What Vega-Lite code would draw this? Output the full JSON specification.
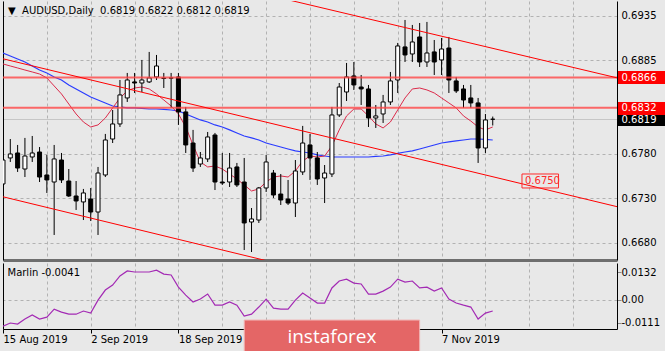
{
  "$schema": "https://vega.github.io/schema/vega-lite/v6.json",
  "background": "#e8e8e8",
  "padding": {"left": 2, "top": 1, "right": 0, "bottom": 0},
  "spacing": 3,
  "config": {
    "view": {"stroke": null},
    "axis": {"labelFont": "DejaVu Sans", "labelFontSize": 10, "labelColor": "#000"},
    "title": {"font": "DejaVu Sans"}
  },
  "datasets": {
    "candles": [
      {"d":"2019-08-15","o":0.67463,"h":0.67912,"l":0.67452,"c":0.67732},
      {"d":"2019-08-16","o":0.67755,"h":0.67968,"l":0.6771,"c":0.678},
      {"d":"2019-08-19","o":0.67811,"h":0.67901,"l":0.67598,"c":0.67642},
      {"d":"2019-08-20","o":0.67631,"h":0.6798,"l":0.67541,"c":0.67777},
      {"d":"2019-08-21","o":0.67766,"h":0.68002,"l":0.6771,"c":0.67811},
      {"d":"2019-08-22","o":0.67822,"h":0.67878,"l":0.67485,"c":0.67541},
      {"d":"2019-08-23","o":0.67564,"h":0.67789,"l":0.67362,"c":0.67508},
      {"d":"2019-08-26","o":0.67485,"h":0.67901,"l":0.6689,"c":0.67744},
      {"d":"2019-08-27","o":0.67732,"h":0.67811,"l":0.67474,"c":0.67508},
      {"d":"2019-08-28","o":0.67496,"h":0.67631,"l":0.67317,"c":0.67328},
      {"d":"2019-08-29","o":0.67328,"h":0.67496,"l":0.67171,"c":0.67272},
      {"d":"2019-08-30","o":0.67261,"h":0.67407,"l":0.67058,"c":0.67362},
      {"d":"2019-09-02","o":0.67294,"h":0.67418,"l":0.67047,"c":0.67148},
      {"d":"2019-09-03","o":0.67148,"h":0.67654,"l":0.6689,"c":0.67586},
      {"d":"2019-09-04","o":0.67564,"h":0.68025,"l":0.67541,"c":0.67957},
      {"d":"2019-09-05","o":0.67968,"h":0.68294,"l":0.67923,"c":0.68137},
      {"d":"2019-09-06","o":0.68137,"h":0.68631,"l":0.68103,"c":0.68463},
      {"d":"2019-09-09","o":0.68429,"h":0.6871,"l":0.68384,"c":0.68631},
      {"d":"2019-09-10","o":0.68609,"h":0.6871,"l":0.68485,"c":0.68597},
      {"d":"2019-09-11","o":0.68597,"h":0.68856,"l":0.68496,"c":0.68631},
      {"d":"2019-09-12","o":0.68609,"h":0.68946,"l":0.68597,"c":0.68654},
      {"d":"2019-09-13","o":0.68665,"h":0.68912,"l":0.68631,"c":0.68788},
      {"d":"2019-09-16","o":0.68652,"h":0.6871,"l":0.68541,"c":0.68648},
      {"d":"2019-09-17","o":0.68655,"h":0.6871,"l":0.68317,"c":0.68652},
      {"d":"2019-09-18","o":0.68665,"h":0.6871,"l":0.68126,"c":0.68272},
      {"d":"2019-09-19","o":0.68272,"h":0.68328,"l":0.67811,"c":0.67901},
      {"d":"2019-09-20","o":0.67923,"h":0.6807,"l":0.67598,"c":0.67642},
      {"d":"2019-09-23","o":0.67687,"h":0.67822,"l":0.67654,"c":0.67755},
      {"d":"2019-09-24","o":0.67744,"h":0.68047,"l":0.6771,"c":0.67991},
      {"d":"2019-09-25","o":0.68013,"h":0.68036,"l":0.67395,"c":0.67485},
      {"d":"2019-09-26","o":0.67485,"h":0.67811,"l":0.67452,"c":0.67474},
      {"d":"2019-09-27","o":0.67485,"h":0.67811,"l":0.67429,"c":0.67642},
      {"d":"2019-09-30","o":0.67654,"h":0.67699,"l":0.67429,"c":0.67452},
      {"d":"2019-10-01","o":0.67485,"h":0.67755,"l":0.66721,"c":0.67025},
      {"d":"2019-10-02","o":0.67036,"h":0.67193,"l":0.66699,"c":0.6707},
      {"d":"2019-10-03","o":0.67058,"h":0.67429,"l":0.67025,"c":0.67418},
      {"d":"2019-10-04","o":0.67418,"h":0.67789,"l":0.67373,"c":0.6771},
      {"d":"2019-10-07","o":0.67586,"h":0.6762,"l":0.67306,"c":0.67339},
      {"d":"2019-10-08","o":0.6735,"h":0.67575,"l":0.67227,"c":0.67283},
      {"d":"2019-10-09","o":0.67294,"h":0.67508,"l":0.67227,"c":0.67249},
      {"d":"2019-10-10","o":0.67249,"h":0.67732,"l":0.67092,"c":0.67609},
      {"d":"2019-10-11","o":0.67598,"h":0.68115,"l":0.67564,"c":0.67923},
      {"d":"2019-10-14","o":0.67901,"h":0.68025,"l":0.67508,"c":0.67755},
      {"d":"2019-10-15","o":0.67755,"h":0.67822,"l":0.67452,"c":0.67519},
      {"d":"2019-10-16","o":0.6753,"h":0.67676,"l":0.67249,"c":0.67586},
      {"d":"2019-10-17","o":0.67575,"h":0.68328,"l":0.67541,"c":0.68238},
      {"d":"2019-10-18","o":0.68238,"h":0.68597,"l":0.68215,"c":0.68552},
      {"d":"2019-10-21","o":0.68496,"h":0.68822,"l":0.68395,"c":0.68665},
      {"d":"2019-10-22","o":0.68676,"h":0.68833,"l":0.68519,"c":0.68575},
      {"d":"2019-10-23","o":0.68552,"h":0.68687,"l":0.6835,"c":0.6853},
      {"d":"2019-10-24","o":0.6853,"h":0.68575,"l":0.68103,"c":0.68204},
      {"d":"2019-10-25","o":0.68204,"h":0.6835,"l":0.68092,"c":0.68227},
      {"d":"2019-10-28","o":0.68249,"h":0.68463,"l":0.68148,"c":0.68384},
      {"d":"2019-10-29","o":0.68384,"h":0.68721,"l":0.6835,"c":0.6862},
      {"d":"2019-10-30","o":0.68631,"h":0.69047,"l":0.68485,"c":0.69013},
      {"d":"2019-10-31","o":0.69002,"h":0.69305,"l":0.68833,"c":0.68912},
      {"d":"2019-11-01","o":0.68923,"h":0.69249,"l":0.68833,"c":0.69058},
      {"d":"2019-11-04","o":0.69114,"h":0.69271,"l":0.68777,"c":0.68833},
      {"d":"2019-11-05","o":0.68833,"h":0.69283,"l":0.68777,"c":0.68934},
      {"d":"2019-11-06","o":0.68946,"h":0.6908,"l":0.68687,"c":0.68833},
      {"d":"2019-11-07","o":0.68856,"h":0.69103,"l":0.68687,"c":0.68979},
      {"d":"2019-11-08","o":0.6899,"h":0.69114,"l":0.68485,"c":0.68631},
      {"d":"2019-11-11","o":0.6862,"h":0.68665,"l":0.68485,"c":0.68508},
      {"d":"2019-11-12","o":0.6853,"h":0.68575,"l":0.68317,"c":0.68406},
      {"d":"2019-11-13","o":0.68429,"h":0.68575,"l":0.68317,"c":0.68373},
      {"d":"2019-11-14","o":0.68373,"h":0.68429,"l":0.67699,"c":0.67867},
      {"d":"2019-11-15","o":0.67867,"h":0.68249,"l":0.67811,"c":0.68182},
      {"d":"2019-11-18","o":0.6819,"h":0.6822,"l":0.6812,"c":0.6819}
    ],
    "ma": [
      {"d":"2019-08-15","blue":0.68934,"red":0.68811},
      {"d":"2019-08-16","blue":0.68901,"red":0.68788},
      {"d":"2019-08-19","blue":0.68867,"red":0.68766},
      {"d":"2019-08-20","blue":0.68833,"red":0.68743},
      {"d":"2019-08-21","blue":0.68788,"red":0.68721},
      {"d":"2019-08-22","blue":0.68743,"red":0.68698},
      {"d":"2019-08-23","blue":0.6871,"red":0.68654},
      {"d":"2019-08-26","blue":0.68665,"red":0.68564},
      {"d":"2019-08-27","blue":0.68631,"red":0.68474},
      {"d":"2019-08-28","blue":0.68575,"red":0.68361},
      {"d":"2019-08-29","blue":0.6853,"red":0.68249},
      {"d":"2019-08-30","blue":0.68485,"red":0.68159},
      {"d":"2019-09-02","blue":0.6844,"red":0.68103},
      {"d":"2019-09-03","blue":0.68406,"red":0.68126},
      {"d":"2019-09-04","blue":0.68373,"red":0.68204},
      {"d":"2019-09-05","blue":0.68339,"red":0.68317},
      {"d":"2019-09-06","blue":0.68328,"red":0.68429},
      {"d":"2019-09-09","blue":0.68317,"red":0.68508},
      {"d":"2019-09-10","blue":0.68317,"red":0.68541},
      {"d":"2019-09-11","blue":0.68311,"red":0.68552},
      {"d":"2019-09-12","blue":0.68305,"red":0.6853},
      {"d":"2019-09-13","blue":0.68305,"red":0.68474},
      {"d":"2019-09-16","blue":0.683,"red":0.68406},
      {"d":"2019-09-17","blue":0.68294,"red":0.68339},
      {"d":"2019-09-18","blue":0.68283,"red":0.68249},
      {"d":"2019-09-19","blue":0.68249,"red":0.68103},
      {"d":"2019-09-20","blue":0.68215,"red":0.67901},
      {"d":"2019-09-23","blue":0.68182,"red":0.6771},
      {"d":"2019-09-24","blue":0.68159,"red":0.67654},
      {"d":"2019-09-25","blue":0.68126,"red":0.67665},
      {"d":"2019-09-26","blue":0.68103,"red":0.67631},
      {"d":"2019-09-27","blue":0.6807,"red":0.67575},
      {"d":"2019-09-30","blue":0.68036,"red":0.67519},
      {"d":"2019-10-01","blue":0.68002,"red":0.67452},
      {"d":"2019-10-02","blue":0.6798,"red":0.67384},
      {"d":"2019-10-03","blue":0.67957,"red":0.67407},
      {"d":"2019-10-04","blue":0.67923,"red":0.67485},
      {"d":"2019-10-07","blue":0.67901,"red":0.67541},
      {"d":"2019-10-08","blue":0.67878,"red":0.67553},
      {"d":"2019-10-09","blue":0.67856,"red":0.67541},
      {"d":"2019-10-10","blue":0.67834,"red":0.67609},
      {"d":"2019-10-11","blue":0.67822,"red":0.67721},
      {"d":"2019-10-14","blue":0.67811,"red":0.67777},
      {"d":"2019-10-15","blue":0.67789,"red":0.67766},
      {"d":"2019-10-16","blue":0.67777,"red":0.67777},
      {"d":"2019-10-17","blue":0.67766,"red":0.6789},
      {"d":"2019-10-18","blue":0.67766,"red":0.6807},
      {"d":"2019-10-21","blue":0.67766,"red":0.68227},
      {"d":"2019-10-22","blue":0.67766,"red":0.68305},
      {"d":"2019-10-23","blue":0.67766,"red":0.68305},
      {"d":"2019-10-24","blue":0.67766,"red":0.68227},
      {"d":"2019-10-25","blue":0.67772,"red":0.68137},
      {"d":"2019-10-28","blue":0.67777,"red":0.68092},
      {"d":"2019-10-29","blue":0.67789,"red":0.68159},
      {"d":"2019-10-30","blue":0.67806,"red":0.68294},
      {"d":"2019-10-31","blue":0.67822,"red":0.68429},
      {"d":"2019-11-01","blue":0.67834,"red":0.6853},
      {"d":"2019-11-04","blue":0.67856,"red":0.68541},
      {"d":"2019-11-05","blue":0.67878,"red":0.68519},
      {"d":"2019-11-06","blue":0.67901,"red":0.68485},
      {"d":"2019-11-07","blue":0.67923,"red":0.68429},
      {"d":"2019-11-08","blue":0.67935,"red":0.68373},
      {"d":"2019-11-11","blue":0.67946,"red":0.68317},
      {"d":"2019-11-12","blue":0.67957,"red":0.68227},
      {"d":"2019-11-13","blue":0.67968,"red":0.6817},
      {"d":"2019-11-14","blue":0.67968,"red":0.68103},
      {"d":"2019-11-15","blue":0.67963,"red":0.6807},
      {"d":"2019-11-18","blue":0.67957,"red":0.68103}
    ],
    "marlin": [
      {"d":"2019-08-15","v":-0.0126},{"d":"2019-08-16","v":-0.0111},{"d":"2019-08-19","v":-0.0116},
      {"d":"2019-08-20","v":-0.0092},{"d":"2019-08-21","v":-0.0073},{"d":"2019-08-22","v":-0.0092},
      {"d":"2019-08-23","v":-0.0083},{"d":"2019-08-26","v":-0.0045},{"d":"2019-08-27","v":-0.0059},
      {"d":"2019-08-28","v":-0.0069},{"d":"2019-08-29","v":-0.0069},{"d":"2019-08-30","v":-0.0054},
      {"d":"2019-09-02","v":-0.0064},{"d":"2019-09-03","v":-0.0002},{"d":"2019-09-04","v":0.0046},
      {"d":"2019-09-05","v":0.007},{"d":"2019-09-06","v":0.0113},{"d":"2019-09-09","v":0.0137},
      {"d":"2019-09-10","v":0.0132},{"d":"2019-09-11","v":0.0132},{"d":"2019-09-12","v":0.0132},
      {"d":"2019-09-13","v":0.0141},{"d":"2019-09-16","v":0.0122},{"d":"2019-09-17","v":0.0118},
      {"d":"2019-09-18","v":0.006},{"d":"2019-09-19","v":0.0022},{"d":"2019-09-20","v":-0.0011},
      {"d":"2019-09-23","v":0.0003},{"d":"2019-09-24","v":0.0027},{"d":"2019-09-25","v":-0.0026},
      {"d":"2019-09-26","v":-0.0026},{"d":"2019-09-27","v":-0.0011},{"d":"2019-09-30","v":-0.0026},
      {"d":"2019-10-01","v":-0.0078},{"d":"2019-10-02","v":-0.0069},{"d":"2019-10-03","v":-0.0035},
      {"d":"2019-10-04","v":0.0003},{"d":"2019-10-07","v":-0.004},{"d":"2019-10-08","v":-0.0045},
      {"d":"2019-10-09","v":-0.0045},{"d":"2019-10-10","v":-0.0002},{"d":"2019-10-11","v":0.0032},
      {"d":"2019-10-14","v":0.0008},{"d":"2019-10-15","v":-0.0016},{"d":"2019-10-16","v":-0.0016},
      {"d":"2019-10-17","v":0.0056},{"d":"2019-10-18","v":0.0089},{"d":"2019-10-21","v":0.0098},
      {"d":"2019-10-22","v":0.0079},{"d":"2019-10-23","v":0.0075},{"d":"2019-10-24","v":0.0027},
      {"d":"2019-10-25","v":0.0027},{"d":"2019-10-28","v":0.0041},{"d":"2019-10-29","v":0.006},
      {"d":"2019-10-30","v":0.0098},{"d":"2019-10-31","v":0.0084},{"d":"2019-11-01","v":0.0089},
      {"d":"2019-11-04","v":0.0056},{"d":"2019-11-05","v":0.006},{"d":"2019-11-06","v":0.0041},
      {"d":"2019-11-07","v":0.0056},{"d":"2019-11-08","v":0.0003},{"d":"2019-11-11","v":-0.0016},
      {"d":"2019-11-12","v":-0.0026},{"d":"2019-11-13","v":-0.0035},{"d":"2019-11-14","v":-0.0092},
      {"d":"2019-11-15","v":-0.0064},{"d":"2019-11-18","v":-0.0054}
    ],
    "levels": [
      {"lvl":"0.6866","d":"2019-08-15","p":0.6866},{"lvl":"0.6866","d":"2019-12-11","p":0.6866},
      {"lvl":"0.6832","d":"2019-08-15","p":0.6832},{"lvl":"0.6832","d":"2019-12-11","p":0.6832}
    ],
    "channels": [
      {"line":"a","d":"2019-08-15","p":0.68869},{"line":"a","d":"2019-12-11","p":0.67208},
      {"line":"b","d":"2019-08-15","p":0.67319},{"line":"b","d":"2019-12-11","p":0.65646},
      {"line":"c","d":"2019-10-02","p":0.69629},{"line":"c","d":"2019-12-11","p":0.68655}
    ]
  },
  "vconcat": [
    {
      "width": 614,
      "height": 259,
      "title": {"text": "▼\u00a0\u00a0AUDUSD,Daily\u00a0\u00a00.6819 0.6822 0.6812 0.6819", "anchor": "start", "offset": -15, "dx": 5, "fontSize": 10, "fontWeight": "normal", "color": "#000"},
      "encoding": {
        "x": {
          "field": "d", "type": "ordinal",
          "scale": {"type": "point", "padding": 0, "domain": ["2019-08-15","2019-08-16","2019-08-19","2019-08-20","2019-08-21","2019-08-22","2019-08-23","2019-08-26","2019-08-27","2019-08-28","2019-08-29","2019-08-30","2019-09-02","2019-09-03","2019-09-04","2019-09-05","2019-09-06","2019-09-09","2019-09-10","2019-09-11","2019-09-12","2019-09-13","2019-09-16","2019-09-17","2019-09-18","2019-09-19","2019-09-20","2019-09-23","2019-09-24","2019-09-25","2019-09-26","2019-09-27","2019-09-30","2019-10-01","2019-10-02","2019-10-03","2019-10-04","2019-10-07","2019-10-08","2019-10-09","2019-10-10","2019-10-11","2019-10-14","2019-10-15","2019-10-16","2019-10-17","2019-10-18","2019-10-21","2019-10-22","2019-10-23","2019-10-24","2019-10-25","2019-10-28","2019-10-29","2019-10-30","2019-10-31","2019-11-01","2019-11-04","2019-11-05","2019-11-06","2019-11-07","2019-11-08","2019-11-11","2019-11-12","2019-11-13","2019-11-14","2019-11-15","2019-11-18","2019-11-19","2019-11-20","2019-11-21","2019-11-22","2019-11-25","2019-11-26","2019-11-27","2019-11-28","2019-11-29","2019-12-02","2019-12-03","2019-12-04","2019-12-05","2019-12-06","2019-12-09","2019-12-10","2019-12-11"]},
          "axis": {"orient": "bottom", "title": null, "values": ["2019-08-15","2019-08-23","2019-09-02","2019-09-10","2019-09-18","2019-09-26","2019-10-04","2019-10-14","2019-10-22","2019-10-30","2019-11-07","2019-11-15","2019-11-25","2019-12-03"], "labels": false, "ticks": false, "grid": true, "gridDash": [3, 3], "gridColor": "#b2b2b2", "domainColor": "#6e6e6e", "domainWidth": 3}
        }
      },
      "layer": [
        {
          "data": {"name": "ma"},
          "mark": {"type": "line", "color": "#2a3cff", "strokeWidth": 1.2, "clip": true},
          "encoding": {"y": {"field": "blue", "type": "quantitative", "scale": {"domain": [0.66609, 0.69518], "nice": false, "zero": false},
            "axis": {
              "orient": "right", "title": null,
              "values": [0.6935, 0.6885, 0.6866, 0.6832, 0.6819, 0.678, 0.673, 0.668],
              "format": ".4f",
              "grid": true,
              "gridDash": {"condition": {"test": "datum.value == 0.6819", "value": []}, "value": [3, 3]},
              "gridColor": {"condition": {"test": "datum.value == 0.6819", "value": "#c6c6c6"}, "value": "#b2b2b2"},
              "gridOpacity": {"condition": {"test": "datum.value == 0.6866 || datum.value == 0.6832", "value": 0}, "value": 1},
              "tickSize": 48,
              "tickWidth": {"condition": {"test": "datum.value == 0.6866 || datum.value == 0.6832 || datum.value == 0.6819", "value": 13}, "value": 1},
              "tickColor": {"condition": {"test": "datum.value == 0.6819", "value": "#000000"}, "value": "#ff0000"},
              "tickOpacity": {"condition": {"test": "datum.value == 0.6866 || datum.value == 0.6832 || datum.value == 0.6819", "value": 1}, "value": 0},
              "labelPadding": -44,
              "labelColor": {"condition": {"test": "datum.value == 0.6866 || datum.value == 0.6832 || datum.value == 0.6819", "value": "#ffffff"}, "value": "#000000"},
              "domainColor": "#000"
            }}}
        },
        {
          "data": {"name": "ma"},
          "mark": {"type": "line", "color": "#dc2a4a", "strokeWidth": 1, "clip": true},
          "encoding": {"y": {"field": "red", "type": "quantitative", "scale": {"domain": [0.66609, 0.69518], "nice": false, "zero": false}, "axis": null}}
        },
        {
          "data": {"name": "candles"},
          "mark": {"type": "rule", "color": "#000", "strokeWidth": 1, "clip": true},
          "encoding": {"y": {"field": "l", "type": "quantitative", "scale": {"domain": [0.66609, 0.69518], "nice": false, "zero": false}, "axis": null}, "y2": {"field": "h"}}
        },
        {
          "data": {"name": "candles"},
          "mark": {"type": "bar", "size": 4, "stroke": "#000", "strokeWidth": 1, "clip": true},
          "encoding": {
            "y": {"field": "o", "type": "quantitative", "scale": {"domain": [0.66609, 0.69518], "nice": false, "zero": false}, "axis": null},
            "y2": {"field": "c"},
            "fill": {"condition": {"test": "datum.c >= datum.o", "value": "#ffffff"}, "value": "#000000"}
          }
        },
        {
          "data": {"name": "levels"},
          "mark": {"type": "line", "color": "#ff4646", "strokeWidth": 2, "opacity": 0.8, "clip": true},
          "encoding": {
            "y": {"field": "p", "type": "quantitative", "scale": {"domain": [0.66609, 0.69518], "nice": false, "zero": false},
              "axis": {"orient": "left", "title": null, "labels": false, "ticks": false, "grid": false, "domainColor": "#000"}},
            "detail": {"field": "lvl"}
          }
        },
        {
          "data": {"name": "channels"},
          "mark": {"type": "line", "color": "#ff0000", "strokeWidth": 1, "clip": true},
          "encoding": {
            "y": {"field": "p", "type": "quantitative", "scale": {"domain": [0.66609, 0.69518], "nice": false, "zero": false}, "axis": null},
            "detail": {"field": "line"}
          }
        },
        {
          "data": {"values": [{}]},
          "mark": {"type": "rect", "fillOpacity": 0, "stroke": "#ff2a2a", "strokeWidth": 1},
          "encoding": {
            "x": {"datum": "2019-11-22", "type": "ordinal"},
            "x2": {"datum": "2019-11-29"},
            "y": {"datum": 0.67575, "type": "quantitative", "scale": {"domain": [0.66609, 0.69518], "nice": false, "zero": false}, "axis": null},
            "y2": {"datum": 0.67418}
          }
        },
        {
          "data": {"values": [{}]},
          "mark": {"type": "text", "align": "left", "dx": 3, "color": "#ff2a2a", "font": "DejaVu Sans", "fontSize": 10},
          "encoding": {
            "x": {"datum": "2019-11-22", "type": "ordinal"},
            "y": {"datum": 0.675, "type": "quantitative", "scale": {"domain": [0.66609, 0.69518], "nice": false, "zero": false}, "axis": null},
            "text": {"value": "0.6750"}
          }
        }
      ],
      "resolve": {"axis": {"y": "independent"}}
    },
    {
      "width": 614,
      "height": 66,
      "title": {"text": "Marlin -0.0041", "anchor": "start", "offset": -15, "dx": 5, "fontSize": 10, "fontWeight": "normal", "color": "#000"},
      "encoding": {
        "x": {
          "field": "d", "type": "ordinal",
          "scale": {"type": "point", "padding": 0, "domain": ["2019-08-15","2019-08-16","2019-08-19","2019-08-20","2019-08-21","2019-08-22","2019-08-23","2019-08-26","2019-08-27","2019-08-28","2019-08-29","2019-08-30","2019-09-02","2019-09-03","2019-09-04","2019-09-05","2019-09-06","2019-09-09","2019-09-10","2019-09-11","2019-09-12","2019-09-13","2019-09-16","2019-09-17","2019-09-18","2019-09-19","2019-09-20","2019-09-23","2019-09-24","2019-09-25","2019-09-26","2019-09-27","2019-09-30","2019-10-01","2019-10-02","2019-10-03","2019-10-04","2019-10-07","2019-10-08","2019-10-09","2019-10-10","2019-10-11","2019-10-14","2019-10-15","2019-10-16","2019-10-17","2019-10-18","2019-10-21","2019-10-22","2019-10-23","2019-10-24","2019-10-25","2019-10-28","2019-10-29","2019-10-30","2019-10-31","2019-11-01","2019-11-04","2019-11-05","2019-11-06","2019-11-07","2019-11-08","2019-11-11","2019-11-12","2019-11-13","2019-11-14","2019-11-15","2019-11-18","2019-11-19","2019-11-20","2019-11-21","2019-11-22","2019-11-25","2019-11-26","2019-11-27","2019-11-28","2019-11-29","2019-12-02","2019-12-03","2019-12-04","2019-12-05","2019-12-06","2019-12-09","2019-12-10","2019-12-11"]},
          "axis": {
            "orient": "bottom", "title": null,
            "values": ["2019-08-15","2019-08-23","2019-09-02","2019-09-10","2019-09-18","2019-09-26","2019-10-04","2019-10-14","2019-10-22","2019-10-30","2019-11-07","2019-11-15","2019-11-25","2019-12-03"],
            "labelExpr": "datum.value == '2019-08-15' ? '15 Aug 2019' : datum.value == '2019-09-02' ? '2 Sep 2019' : datum.value == '2019-09-18' ? '18 Sep 2019' : datum.value == '2019-11-07' ? '7 Nov 2019' : ''",
            "labelAngle": 0, "labelAlign": "left", "labelBaseline": "top", "labelPadding": 1, "labelOverlap": false, "labelFlush": false, "labelBound": false,
            "tickSize": 4, "tickColor": "#000",
            "tickOpacity": {"condition": {"test": "indexof(['2019-08-15','2019-09-02','2019-09-18','2019-10-04','2019-10-22','2019-11-07'], datum.value) >= 0", "value": 1}, "value": 0},
            "grid": true, "gridDash": [3, 3], "gridColor": "#b2b2b2", "domainColor": "#000"
          }
        }
      },
      "layer": [
        {
          "data": {"name": "marlin"},
          "mark": {"type": "line", "color": "#a32ab4", "strokeWidth": 1.2, "clip": true},
          "encoding": {"y": {"field": "v", "type": "quantitative", "scale": {"domain": [-0.01396, 0.01749], "nice": false, "zero": false},
            "axis": {"orient": "right", "title": null, "values": [0.0132, 0, -0.0111],
              "labelExpr": "datum.value > 0.01 ? '0.0132' : (datum.value < -0.01 ? '-0.0111' : '0.00')",
              "tickSize": 4, "labelPadding": 0, "grid": true, "gridDash": [3, 3], "gridColor": "#b2b2b2",
              "gridOpacity": {"condition": {"test": "datum.value == 0", "value": 1}, "value": 0},
              "domainColor": "#000"}}}
        },
        {
          "data": {"values": [{}]},
          "mark": {"type": "rect", "fill": "#e46666", "stroke": "#f2b4b4", "strokeWidth": 1, "clip": false},
          "encoding": {
            "x": {"datum": "2019-10-01", "type": "ordinal"},
            "x2": {"datum": "2019-11-04"},
            "y": {"datum": -0.0097, "type": "quantitative", "scale": {"domain": [-0.01396, 0.01749], "nice": false, "zero": false},
              "axis": {"orient": "left", "title": null, "labels": false, "ticks": false, "grid": false, "domainColor": "#000"}},
            "y2": {"datum": -0.0249}
          }
        },
        {
          "data": {"values": [{}]},
          "mark": {"type": "text", "color": "#ffffff", "font": "Open Sans", "fontSize": 19, "baseline": "alphabetic", "clip": false},
          "encoding": {
            "x": {"datum": "2019-10-17", "type": "ordinal"},
            "y": {"datum": -0.0206, "type": "quantitative", "scale": {"domain": [-0.01396, 0.01749], "nice": false, "zero": false}, "axis": null},
            "text": {"value": "instaforex"}
          }
        }
      ],
      "resolve": {"axis": {"y": "independent"}}
    }
  ]
}
